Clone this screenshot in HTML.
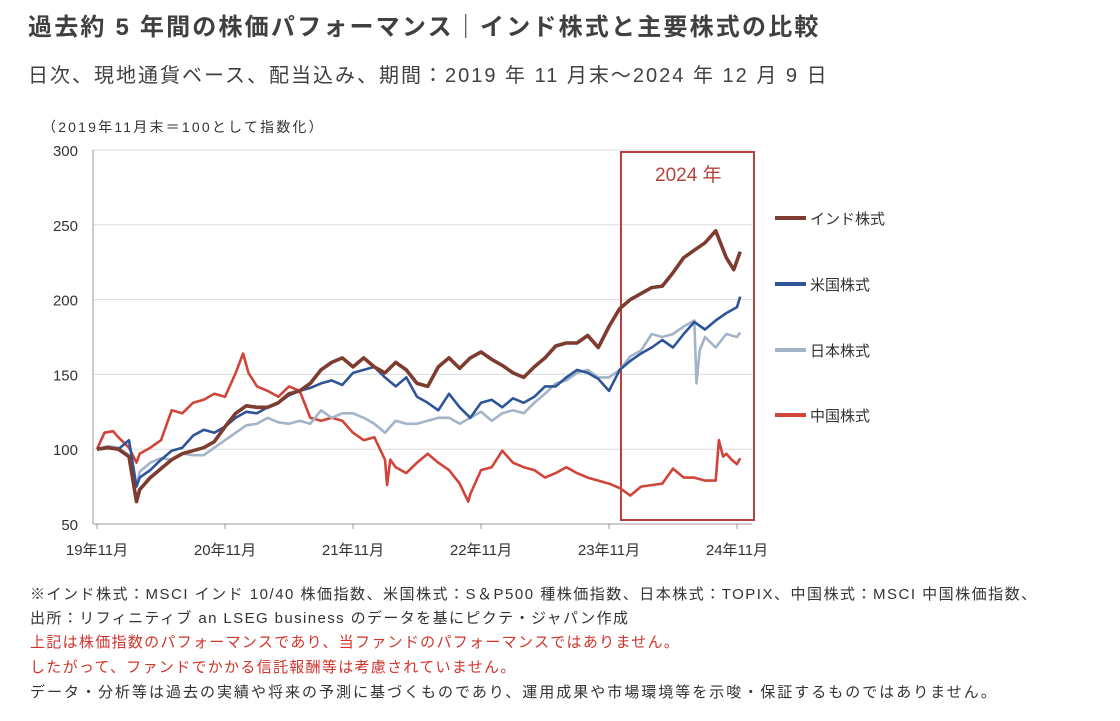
<!DOCTYPE html>
<html><head><meta charset="utf-8"><style>
body{margin:0;background:#fff;width:1120px;height:721px;overflow:hidden;font-family:"Liberation Sans","Noto Sans CJK JP",sans-serif;color:#333}
.t{position:absolute;white-space:nowrap}
.f{font-size:15px;letter-spacing:1.5px;left:30px}
</style></head><body>
<div class="t" style="left:28px;top:7px;font-size:24px;font-weight:bold;color:#404040;letter-spacing:2.2px">過去約 5 年間の株価パフォーマンス｜インド株式と主要株式の比較</div>
<div class="t" style="left:28px;top:59px;font-size:20px;color:#404040;letter-spacing:2px">日次、現地通貨ベース、配当込み、期間：2019 年 11 月末～2024 年 12 月 9 日</div>
<svg width="1120" height="721" style="position:absolute;left:0;top:0" id="svg"></svg>
<div class="t f" style="top:583px">※インド株式：MSCI インド 10/40 株価指数、米国株式：S＆P500 種株価指数、日本株式：TOPIX、中国株式：MSCI 中国株価指数、</div>
<div class="t f" style="top:607px;letter-spacing:1.4px">出所：リフィニティブ an LSEG business のデータを基にピクテ・ジャパン作成</div>
<div class="t f" style="top:631px;color:#d0342c;letter-spacing:1.3px">上記は株価指数のパフォーマンスであり、当ファンドのパフォーマンスではありません。</div>
<div class="t f" style="top:656px;color:#d0342c;letter-spacing:1.3px">したがって、ファンドでかかる信託報酬等は考慮されていません。</div>
<div class="t f" style="top:681px;letter-spacing:2px">データ・分析等は過去の実績や将来の予測に基づくものであり、運用成果や市場環境等を示唆・保証するものではありません。</div>
<script>
const yTicks=[50,100,150,200,250,300];
const xTickMonths=[0,12,24,36,48,60];
const xTickLabels=["19年11月","20年11月","21年11月","22年11月","23年11月","24年11月"];
const indiaT=[0,1,2,3,3.7,4,5,6,7,8,9,10,11,12,13,14,15,16,17,18,19,20,21,22,23,24,25,26,27,28,29,30,31,32,33,34,35,36,37,38,39,40,41,42,43,44,45,46,47,48,49,50,51,52,53,54,55,56,57,58,59,59.7,60,60.3];
const indiaV=[100,101,100,95,65,73,81,87,93,97,99,101,105,115,124,129,128,128,131,137,139,144,153,158,161,155,161,155,151,158,153,144,142,155,161,154,161,165,160,156,151,148,155,161,169,171,171,176,168,182,194,200,204,208,209,218,228,233,238,246,228,220,226,232];
const usT=[0,1,2,3,3.7,4,5,6,7,8,9,10,11,12,13,14,15,16,17,18,19,20,21,22,23,24,25,26,27,28,29,30,31,32,33,34,35,36,37,38,39,40,41,42,43,44,45,46,47,48,49,50,51,52,53,54,55,56,57,58,59,60,60.3];
const usV=[100,101,100,106,75,81,86,93,99,101,109,113,111,115,121,125,124,128,131,136,139,141,144,146,143,151,153,155,148,142,148,135,131,126,137,128,121,131,133,128,134,131,135,142,142,148,153,151,147,139,153,159,164,168,173,168,177,185,180,186,191,195,202];
const japanT=[0,1,2,3,3.7,4,5,6,7,8,9,10,11,12,13,14,15,16,17,18,19,20,21,22,23,24,25,26,27,28,29,30,31,32,33,34,35,36,37,38,39,40,41,42,43,44,45,46,47,48,49,50,51,52,53,54,55,56,56.2,56.5,57,58,59,60,60.3];
const japanV=[100,102,101,96,75,85,91,94,93,97,96,96,101,106,111,116,117,121,118,117,119,117,126,121,124,124,121,117,111,119,117,117,119,121,121,117,121,125,119,124,126,124,131,137,144,146,151,153,148,148,153,162,166,177,175,177,182,186,144,166,175,168,177,175,178];
const chinaT=[0,0.7,1.5,2,3,3.7,4,5,6,7,8,9,10,11,12,13,13.7,14.2,15,16,17,18,19,20,21,22,23,24,25,26,27,27.2,27.5,28,29,30,31,32,33,34,34.8,35,36,37,38,39,40,41,42,43,44,45,46,47,48,49,50,51,52,53,54,55,56,57,58,58.3,58.7,59,59.5,60,60.3];
const chinaV=[100,111,112,108,101,91,97,101,106,126,124,131,133,137,135,151,164,151,142,139,135,142,139,121,119,121,119,111,106,108,93,76,93,88,84,91,97,91,86,77,65,70,86,88,99,91,88,86,81,84,88,84,81,79,77,74,69,75,76,77,87,81,81,79,79,106,95,97,93,90,94];
const svg=document.getElementById('svg');const NS='http://www.w3.org/2000/svg';
const X0=93,X1=752,Y0=524,Y1=150;
const xs=m=>97+m*(640/60);
const ys=v=>Y0-(v-50)*(Y0-Y1)/250;
function mk(tag,attrs){const e=document.createElementNS(NS,tag);for(const k in attrs)e.setAttribute(k,attrs[k]);svg.appendChild(e);return e;}
yTicks.forEach(v=>{
  if(v>50){const g=mk('line',{x1:X0,x2:X1,y1:ys(v),y2:ys(v),stroke:'#dcdcdc','stroke-width':1});
  
  }
  const t=mk('text',{x:78,y:ys(v)+6,'text-anchor':'end','font-size':15,fill:'#333'});t.textContent=v;
  
  
});
const ax=mk('line',{x1:X0,x2:X0,y1:Y1,y2:Y0,stroke:'#999','stroke-width':1});


const bx=mk('line',{x1:X0,x2:X1,y1:Y0,y2:Y0,stroke:'#999','stroke-width':1});


xTickMonths.forEach((m,i)=>{
  const l=mk('line',{x1:xs(m),x2:xs(m),y1:Y0,y2:Y0+5,stroke:'#999'});
  
  
  const t=mk('text',{x:xs(m),y:555,'text-anchor':'middle','font-size':15,fill:'#333'});t.textContent=xTickLabels[i];
  
  
});
const note=mk('text',{x:42,y:132,'font-size':14,fill:'#333','letter-spacing':2.2});note.textContent='（2019年11月末＝100として指数化）';


const box=mk('rect',{x:621,y:152,width:133,height:368,fill:'none',stroke:'#b5433d','stroke-width':2});


const bt=mk('text',{x:655,y:181,'font-size':19,fill:'#b5433d'});bt.textContent='2024 年';


const series=[
 {n:'china',T:chinaT,V:chinaV,c:'#d0443a',w:2.6,label:'中国株式',ly:415},
 {n:'japan',T:japanT,V:japanV,c:'#a3b4c9',w:2.6,label:'日本株式',ly:350},
 {n:'us',T:usT,V:usV,c:'#2e5597',w:2.6,label:'米国株式',ly:284},
 {n:'india',T:indiaT,V:indiaV,c:'#7e3b30',w:3.6,label:'インド株式',ly:218}];
series.forEach(s=>{
  const p=mk('polyline',{points:s.T.map((m,i)=>xs(m).toFixed(1)+','+ys(s.V[i]).toFixed(1)).join(' '),fill:'none',stroke:s.c,'stroke-width':s.w,'stroke-linejoin':'round'});
  
  
  const l=mk('line',{x1:775,x2:806,y1:s.ly,y2:s.ly,stroke:s.c,'stroke-width':4});
  
  
  const t=mk('text',{x:810,y:s.ly+6,'font-size':15,fill:'#333'});t.textContent=s.label;
  
  
});
</script>
</body></html>
